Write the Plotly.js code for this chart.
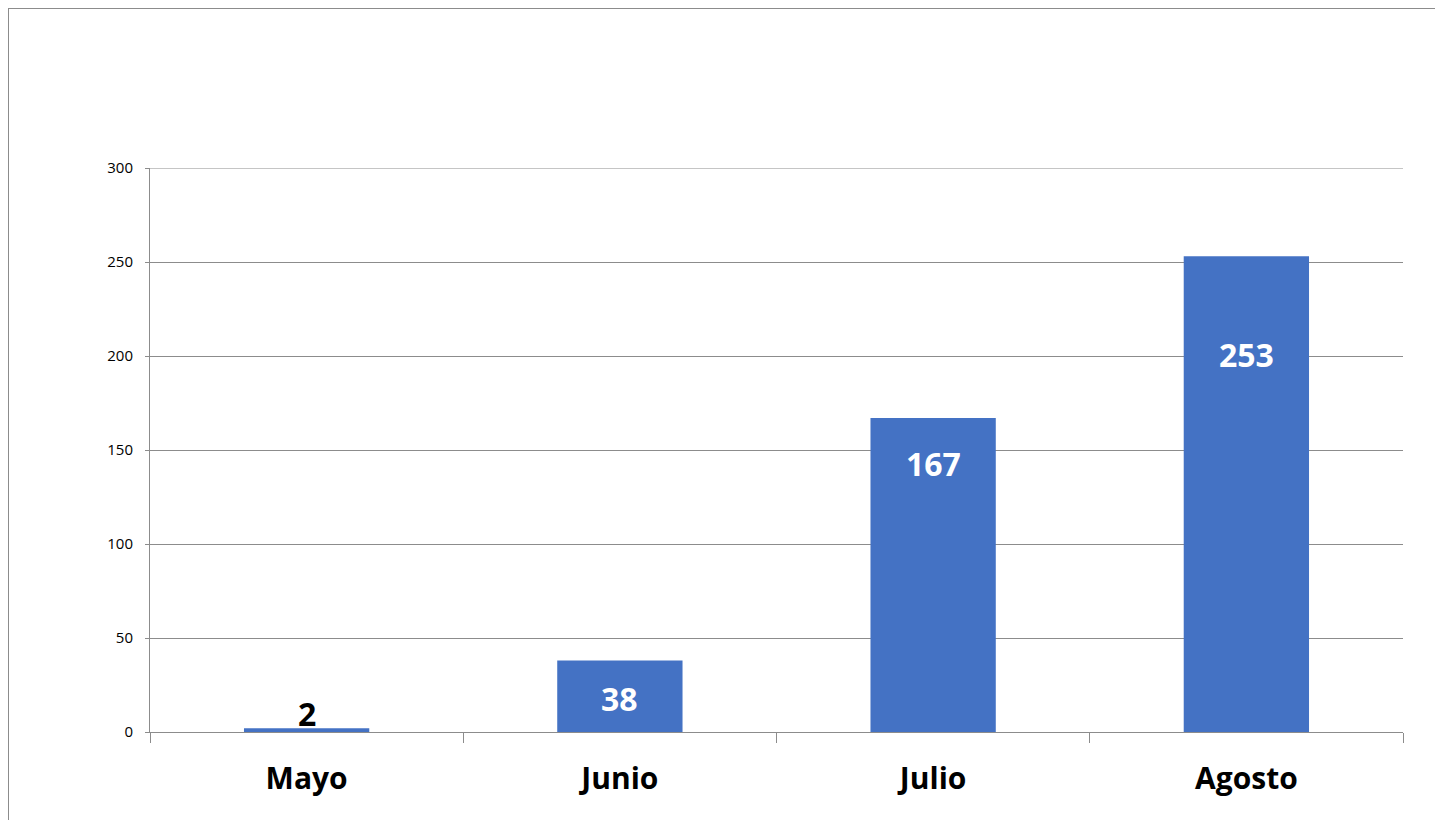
<!DOCTYPE html>
<html>
<head>
<meta charset="utf-8">
<script src="https://cdn.plot.ly/plotly-3.0.1.min.js"></script>
<style>
  html, body { margin: 0; padding: 0; background: #ffffff; overflow: hidden; }
  #wrap { position: relative; width: 1435px; height: 820px; overflow: hidden; }
  #frame { position: absolute; left: 8px; top: 8px; width: 2000px; height: 2000px;
           border: 1.5px solid #8c8c8c; box-sizing: border-box; pointer-events: none; }
  #chart { position: absolute; left: 0; top: 0; width: 1435px; height: 820px; }
</style>
</head>
<body>
<div id="wrap">
  <div id="chart"></div>
  <div id="frame"></div>
</div>
<script>
// ---- data ----
const months = ["Mayo", "Junio", "Julio", "Agosto"];
const counts = [2, 38, 167, 253];
const yTicks = [0, 50, 100, 150, 200, 250, 300];

// ---- label styling (pixel offsets from bar top, colours) ----
const labelShift = [15, -38, -45, -98];
const labelColor = ["#000000", "#ffffff", "#ffffff", "#ffffff"];

const FONT = "'Open Sans', 'Noto Sans', sans-serif";
const GREY = "#8c8c8c";
const yMax = yTicks[yTicks.length - 1];

const trace = {
  type: "bar",
  x: months,
  y: counts,
  marker: { color: "#4472C4", line: { width: 0 } },
  hoverinfo: "skip",
  textposition: "none"
};

const annotations = months.map((m, i) => ({
  x: m,
  y: counts[i],
  xref: "x",
  yref: "y",
  text: "<b>" + counts[i] + "</b>",
  showarrow: false,
  yanchor: "middle",
  xanchor: "center",
  yshift: labelShift[i],
  font: { family: FONT, size: 32, color: labelColor[i] }
}));

const W = 1435, H = 820;

const layout = {
  width: W,
  height: H,
  margin: { l: 150, r: 32, t: 168, b: 88, pad: 0 },
  paper_bgcolor: "rgba(0,0,0,0)",
  plot_bgcolor: "rgba(0,0,0,0)",
  showlegend: false,
  bargap: 0.6,
  xaxis: {
    type: "category",
    tickson: "boundaries",
    ticks: "outside",
    ticklen: 10,
    tickwidth: 1,
    tickcolor: GREY,
    showline: true,
    linecolor: GREY,
    linewidth: 1,
    showgrid: false,
    zeroline: false,
    tickfont: { family: FONT, size: 30, color: "#000000", weight: "bold" },
    ticklabelstandoff: 20,
    fixedrange: true
  },
  yaxis: {
    range: [0, yMax],
    tickvals: yTicks,
    ticktext: yTicks.map(String),
    ticks: "outside",
    ticklen: 4,
    tickwidth: 1,
    tickcolor: GREY,
    showline: true,
    linecolor: GREY,
    linewidth: 1,
    showgrid: true,
    gridcolor: GREY,
    gridwidth: 1,
    zeroline: false,
    tickfont: { family: FONT, size: 15, color: "#000000" },
    ticklabelstandoff: 9,
    fixedrange: true
  },
  shapes: [{
    type: "line",
    xref: "paper",
    yref: "y",
    x0: 0,
    x1: 1,
    y0: yMax,
    y1: yMax,
    line: { color: GREY, width: 1 },
    layer: "below"
  }],
  annotations: annotations
};

Plotly.newPlot("chart", [trace], layout, { displayModeBar: false, staticPlot: true });
</script>
</body>
</html>
